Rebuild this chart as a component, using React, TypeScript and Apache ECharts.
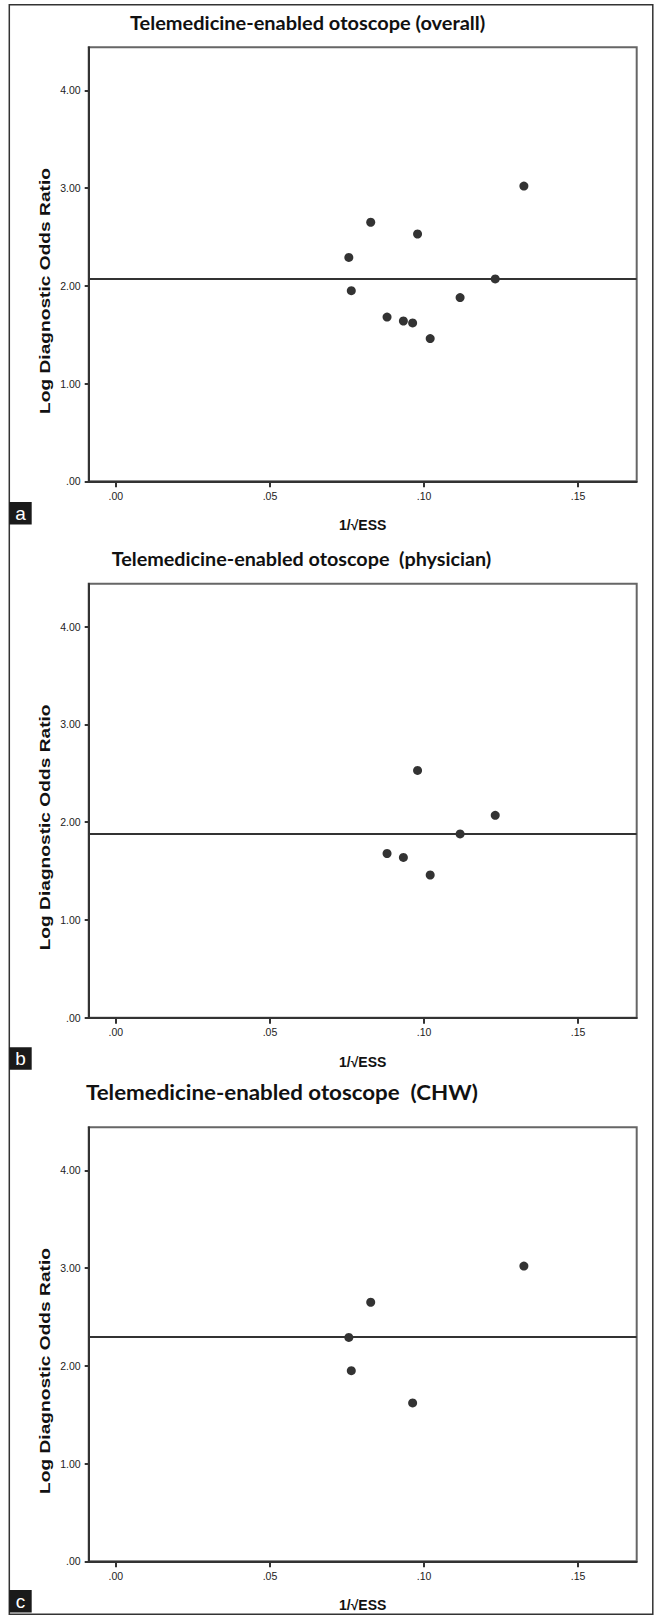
import React, { useEffect, useRef } from "react";
import * as echarts from "echarts";

// ---- data ----
const titles = [
  "Telemedicine-enabled otoscope (overall)",
  "Telemedicine-enabled otoscope  (physician)",
  "Telemedicine-enabled otoscope  (CHW)",
];
const panelLetters = ["a", "b", "c"];
const xTicks = [0, 0.05, 0.1, 0.15];
const xTickLabels = [".00", ".05", ".10", ".15"];
const yTicks = [0, 1, 2, 3, 4];
const yTickLabels = [".00", "1.00", "2.00", "3.00", "4.00"];
const xAxisName = "1/\u221AESS";
const yAxisName = "Log Diagnostic Odds Ratio";

const overallX = [0.1324, 0.0827, 0.0979, 0.0756, 0.1231, 0.0764, 0.1117, 0.088, 0.0933, 0.0963, 0.102];
const overallY = [3.02, 2.65, 2.53, 2.29, 2.07, 1.95, 1.88, 1.68, 1.64, 1.62, 1.46];
const physicianX = [0.0979, 0.1231, 0.1117, 0.088, 0.0933, 0.102];
const physicianY = [2.53, 2.07, 1.88, 1.68, 1.64, 1.46];
const chwX = [0.1324, 0.0827, 0.0756, 0.0764, 0.0963];
const chwY = [3.02, 2.65, 2.29, 1.95, 1.62];
const meanLines = [2.07, 1.88, 2.3];

const xMin = -0.0088;
const xMax = 0.169;
const yMin = 0;
const yMax = 4.44;

// ---- layout ----
const W = 657;
const H = 1616;
const gridLeft = 88.7;
const gridWidth = 548;
const gridHeight = 434;
const gridTops = [47.3, 583.7, 1127.3];
const titleLefts = [130, 111.7, 86];
const titleRights = [485.5, 491.5, 478];
const titleYs = [23, 559, 1092.5];
const titleSizes = [19, 19, 20];
const letterBoxTops = [502, 1047.3, 1590];
const yNameOffset = 243.7;
const yNameLength = 246;

const tickLabel = (ticks: number[], labels: string[]) => (v: number) => {
  let best = 0;
  for (let i = 0; i < ticks.length; i++) {
    if (Math.abs(ticks[i] - v) < Math.abs(ticks[best] - v)) best = i;
  }
  return labels[best];
};

function measure(text: string, font: string) {
  const c = document.createElement("canvas");
  const ctx = c.getContext("2d")!;
  ctx.font = font;
  return ctx.measureText(text).width;
}

export default function App() {
  const ref = useRef<HTMLDivElement>(null);
  useEffect(() => {
    if (!ref.current) return;
    const chart = echarts.init(ref.current, null, { renderer: "svg" });
    const series = [
      [overallX, overallY],
      [physicianX, physicianY],
      [chwX, chwY],
    ];
    const labelFont = "'Liberation Sans Narrow', 'Liberation Sans', Arial, sans-serif";
    const titleFont = "Lato, 'Liberation Sans', sans-serif";

    const graphic: any[] = [
      {
        type: "rect",
        shape: { x: 9.3, y: 4.7, width: 643.5, height: 1609.5 },
        style: { fill: "none", stroke: "#333", lineWidth: 1.5 },
        silent: true,
      },
    ];
    const yNameW = measure(yAxisName, "bold 15px 'Liberation Sans'");
    titles.forEach((t, i) => {
      const size = titleSizes[i];
      const w = measure(t, `bold ${size}px Lato`);
      const target = titleRights[i] - titleLefts[i];
      graphic.push({
        type: "text",
        x: titleLefts[i],
        y: titleYs[i],
        scaleX: w > 0 ? target / w : 1,
        style: {
          text: t,
          fontFamily: titleFont,
          fontWeight: "bold",
          fontSize: size,
          fill: "#111",
          textAlign: "left",
          textVerticalAlign: "middle",
        },
        silent: true,
      });
    });
    panelLetters.forEach((l, i) => {
      graphic.push({
        type: "rect",
        shape: { x: 9.3, y: letterBoxTops[i], width: 22.4, height: 22.5 },
        style: { fill: "#1a1a1a" },
        silent: true,
      });
      graphic.push({
        type: "text",
        x: 20.5,
        y: letterBoxTops[i] + 11.5,
        style: {
          text: l,
          fontFamily: "'Liberation Sans', Arial, sans-serif",
          fontSize: 19,
          fill: "#fff",
          textAlign: "center",
          textVerticalAlign: "middle",
        },
        silent: true,
      });
      graphic.push({
        type: "text",
        x: 44.5,
        y: gridTops[i] + yNameOffset,
        rotation: Math.PI / 2,
        scaleX: yNameW > 0 ? yNameLength / yNameW : 1,
        style: {
          text: yAxisName,
          fontFamily: "'Liberation Sans', Arial, sans-serif",
          fontWeight: "bold",
          fontSize: 15,
          fill: "#111",
          textAlign: "center",
          textVerticalAlign: "middle",
        },
        silent: true,
      });
    });

    const option: any = {
      animation: false,
      backgroundColor: "#fff",
      grid: gridTops.map((top) => ({
        left: gridLeft,
        top,
        width: gridWidth,
        height: gridHeight,
        show: true,
        borderColor: "#666",
        borderWidth: 2,
        backgroundColor: "transparent",
      })),
      xAxis: gridTops.map((_, i) => ({
        type: "value",
        gridIndex: i,
        min: xMin,
        max: xMax,
        name: xAxisName,
        nameLocation: "middle",
        nameGap: 37,
        nameTextStyle: {
          fontFamily: "'Liberation Sans', Arial, sans-serif",
          fontWeight: "bold",
          fontSize: 14,
          color: "#111",
        },
        axisLine: { show: true, onZero: false, lineStyle: { color: "#333", width: 2 } },
        axisTick: {
          show: true,
          inside: false,
          length: 6,
          customValues: xTicks,
          lineStyle: { color: "#333", width: 2 },
        },
        axisLabel: {
          show: true,
          customValues: xTicks,
          formatter: tickLabel(xTicks, xTickLabels),
          fontFamily: labelFont,
          fontSize: 10.5,
          color: "#222",
          margin: 9,
        },
        splitLine: { show: false },
      })),
      yAxis: gridTops.map((_, i) => ({
        type: "value",
        gridIndex: i,
        min: yMin,
        max: yMax,
        axisLine: { show: true, onZero: false, lineStyle: { color: "#333", width: 2 } },
        axisTick: {
          show: true,
          inside: false,
          length: 4,
          customValues: yTicks,
          lineStyle: { color: "#333", width: 2 },
        },
        axisLabel: {
          show: true,
          customValues: yTicks,
          formatter: tickLabel(yTicks, yTickLabels),
          fontFamily: labelFont,
          fontSize: 10.5,
          color: "#222",
          margin: 8,
        },
        splitLine: { show: false },
      })),
      series: series.map(([xs, ys], i) => ({
        type: "scatter",
        xAxisIndex: i,
        yAxisIndex: i,
        symbol: "circle",
        symbolSize: 9,
        itemStyle: { color: "#000" },
        data: xs.map((x, j) => [x, ys[j]]),
        markLine: {
          silent: true,
          symbol: ["none", "none"],
          label: { show: false },
          lineStyle: { color: "#333", width: 2, type: "solid" },
          data: [{ yAxis: meanLines[i] }],
        },
      })),
      graphic,
    };
    chart.setOption(option);
    return () => chart.dispose();
  }, []);
  return (
    <div
      ref={ref}
      style={{ position: "absolute", left: 0, top: 0, width: W, height: H, background: "#fff" }}
    />
  );
}
